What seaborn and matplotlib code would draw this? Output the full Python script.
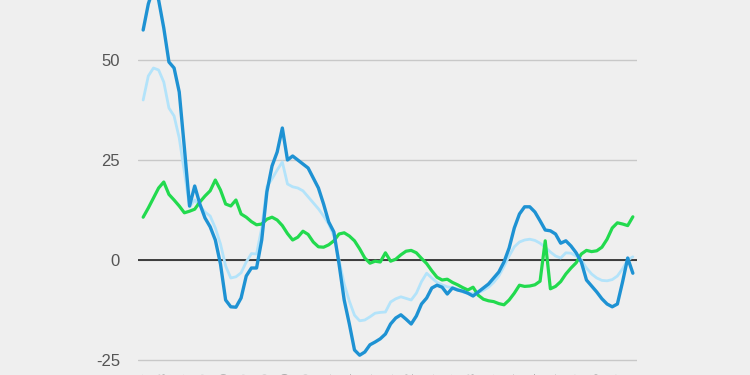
import pandas as pd
import matplotlib.pyplot as plt
import seaborn as sns

# monthly readings, 96 points
dark_blue = [57.5, 64, 68, 65, 58, 49.5, 48, 42, 28, 13.5,
             18.5, 14, 10.5, 8.3, 5, -1, -10, -11.7, -11.8, -9.5,
             -4, -2, -2, 5, 17, 23.5, 27, 33, 25, 26,
             25, 24, 23, 20.5, 18, 14, 9.5, 7, -1, -10,
             -16, -22.5, -23.8, -23, -21.2, -20.5, -19.7, -18.5, -16, -14.5,
             -13.7, -14.8, -16, -14, -11, -9.5, -7, -6.3, -6.8, -8.5,
             -7, -7.5, -7.8, -8.3, -9, -8, -7, -6, -4.5, -3,
             -0.5, 3, 8, 11.5, 13.3, 13.3, 12, 9.8, 7.5, 7.3,
             6.5, 4.2, 4.8, 3.5, 1.8, -0.5, -5, -6.5, -8, -9.7,
             -11, -11.7, -11, -5.5, 0.5, -3.3]

light_blue = [40, 46, 48, 47.5, 44.5, 38, 36, 30.5, 22, 13.3,
              15, 13.5, 12, 11, 8, 4, -1.5, -4.5, -4.2, -3.2,
              -0.5, 1.6, 1.5, 8, 18.3, 20.3, 22.5, 24.5, 19, 18.3,
              18, 17.3, 15.8, 14.3, 12.8, 11, 9, 6, 0, -6,
              -10.3, -13.8, -15.2, -15, -14.2, -13.3, -13.1, -13, -10.5, -9.7,
              -9.2, -9.6, -10, -8.3, -5.4, -3.3, -4.5, -5.6, -6.2, -6.7,
              -6.9, -7.3, -8, -8.3, -8.4, -8.2, -7.6, -6.8, -5.6, -4,
              -1.6, 1, 3.3, 4.5, 5, 5.2, 4.9, 4.2, 3.2, 2,
              1, 0.5, 1.8, 1.7, 1, 0, -2, -3.5, -4.5, -5.1,
              -5.2, -4.9, -4, -2.2, 0, 0.8]

green = [10.7, 13, 15.5, 18, 19.5, 16.4, 15, 13.5, 11.8, 12.2,
         12.7, 14.5, 16, 17.3, 20, 17.5, 14, 13.5, 15, 11.5,
         10.7, 9.6, 8.8, 9, 10.2, 10.7, 10, 8.6, 6.6, 5,
         5.7, 7.2, 6.4, 4.5, 3.3, 3.2, 3.8, 4.8, 6.5, 6.8,
         6, 4.8, 2.8, 0.5, -0.8, -0.3, -0.5, 1.8, -0.3, 0.2,
         1.3, 2.2, 2.4, 1.8, 0.4, -0.9, -2.7, -4.3, -5, -4.8,
         -5.6, -6.2, -6.9, -7.5, -6.8, -8.8, -9.8, -10.2, -10.4, -10.9,
         -11.2, -10, -8.3, -6.3, -6.6, -6.5, -6.2, -5.3, 4.8, -7.2,
         -6.6, -5.4, -3.5, -2, -0.7, 1.5, 2.4, 2.1, 2.3, 3.2,
         5.2, 8, 9.3, 9, 8.6, 10.8]

months = pd.date_range("2008-01-01", periods=len(dark_blue), freq="MS")
x_labels = [m.strftime("%b %Y") for m in months]
y_ticks = [-25, 0, 25, 50]

df = pd.DataFrame({
    "idx": list(range(len(months))) * 3,
    "value": light_blue + green + dark_blue,
    "series": ["light"] * len(months) + ["green"] * len(months) + ["dark"] * len(months),
})

sns.set_theme(style="white")
plt.rcParams['font.family'] = ['Liberation Sans', 'DejaVu Sans']

bg = "#efefef"
fig = plt.figure(figsize=(7.5, 3.75), dpi=100, facecolor=bg)
# the plot runs past the top and bottom edges of the picture
ax = fig.add_axes([0.184, 0.024, 0.6653, 1.0293])
ax.set_facecolor(bg)

palette = {"light": "#b3e3fa", "green": "#22da4e", "dark": "#1e92d3"}
widths = {"light": 2.0, "green": 2.3, "dark": 2.4}
for name in ["light", "green", "dark"]:
    sns.lineplot(data=df[df["series"] == name], x="idx", y="value", color=palette[name],
                 linewidth=widths[name], ax=ax, legend=False, zorder=3)

ax.set_yticks(y_ticks)
ax.set_yticklabels([str(t) for t in y_ticks], fontsize=12, color="#555555")
ax.set_xticks(range(0, len(months), 4))
ax.set_xticklabels(x_labels[::4], fontsize=9, color="#888888", rotation=90)
ax.set_ylim(-26.5, 70)
ax.set_xlim(-1, len(months) - 0.2)
ax.tick_params(axis="y", length=0, pad=13)
ax.tick_params(axis="x", length=0, pad=5)
ax.yaxis.grid(True, color="#c8c8c8", linewidth=1)
ax.set_axisbelow(True)
ax.axhline(0, color="#222222", linewidth=1.2, zorder=2)
for s in ax.spines.values():
    s.set_visible(False)
ax.set_xlabel("")
ax.set_ylabel("")

fig.savefig("out.png", dpi=100, facecolor=bg)
